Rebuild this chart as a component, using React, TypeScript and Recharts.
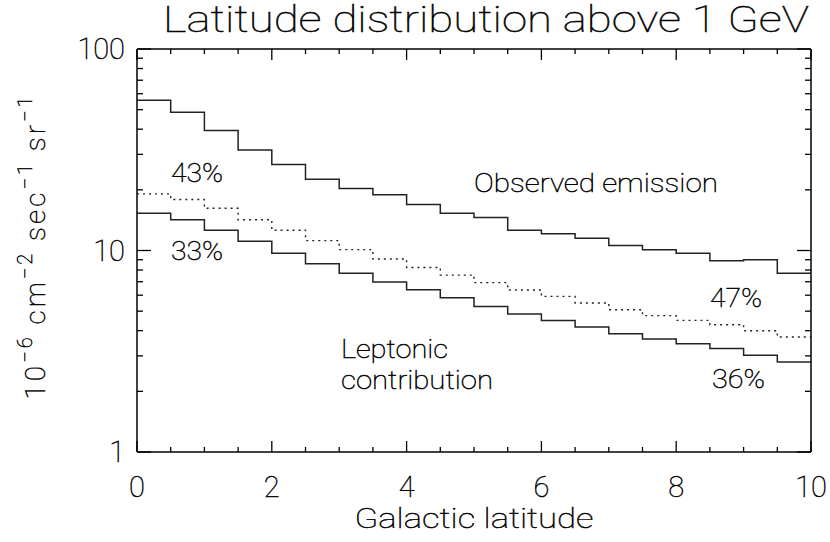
import { LineChart, Line, XAxis, YAxis } from 'recharts';

// bin left edges (deg), last point closes the final bin
const latitude = [0, 0.5, 1, 1.5, 2, 2.5, 3, 3.5, 4, 4.5, 5, 5.5, 6, 6.5, 7, 7.5, 8, 8.5, 9, 9.5, 10];
const observed = [55.6, 48.5, 39.4, 31.5, 26.7, 22.6, 20.3, 18.9, 16.9, 15.3, 14.6, 12.6, 12.1, 11.5, 10.6, 10.1, 9.7, 8.9, 9.0, 7.7, 7.7];
const model = [19.1, 17.9, 16.2, 14.2, 12.6, 11.2, 10.1, 9.07, 8.24, 7.55, 6.93, 6.37, 5.92, 5.49, 5.08, 4.75, 4.5, 4.28, 4.0, 3.72, 3.72];
const leptonic = [15.3, 14.2, 12.6, 11.1, 9.68, 8.6, 7.7, 6.98, 6.39, 5.83, 5.28, 4.84, 4.5, 4.17, 3.86, 3.64, 3.45, 3.26, 3.02, 2.8, 2.8];

const xTicks = [0, 0.5, 1, 1.5, 2, 2.5, 3, 3.5, 4, 4.5, 5, 5.5, 6, 6.5, 7, 7.5, 8, 8.5, 9, 9.5, 10];
const xLabels = [0, 2, 4, 6, 8, 10];
const yTicks = [1, 2, 3, 4, 5, 6, 7, 8, 9, 10, 20, 30, 40, 50, 60, 70, 80, 90, 100];
const yLabels = [1, 10, 100];

const data = latitude.map((lat, i) => ({
  lat,
  observed: observed[i],
  model: model[i],
  leptonic: leptonic[i],
}));

const FONT = "Roboto, 'DejaVu Sans', sans-serif";
const WEIGHT = 100;
const INK = '#000';
const LINE = '#222';

// thin font, darkened with a hairline stroke to look like the plotter lettering
const txt = { fontFamily: FONT, fontWeight: WEIGHT, fill: INK, stroke: INK, strokeWidth: 0.45 } as const;

// IDL-style inward ticks, long on labelled values
const BottomTick = ({ x, y, payload }: any) => {
  const major = xLabels.includes(payload.value);
  return (
    <g>
      <line x1={x} y1={y} x2={x} y2={y - (major ? 11 : 5)} stroke={INK} strokeWidth={1.3} />
      {major && (
        <text x={x} y={y + 45} textAnchor="middle" fontSize={29} {...txt}>
          {payload.value}
        </text>
      )}
    </g>
  );
};

const TopTick = ({ x, y, payload }: any) => {
  const major = xLabels.includes(payload.value);
  return <line x1={x} y1={y} x2={x} y2={y + (major ? 11 : 5)} stroke={INK} strokeWidth={1.3} />;
};

const LeftTick = ({ x, y, payload }: any) => {
  const major = yLabels.includes(payload.value);
  return (
    <g>
      <line x1={x} y1={y} x2={x + (major ? 14 : 6)} y2={y} stroke={INK} strokeWidth={1.3} />
      {major && (
        <text x={x - 12} y={y + 10} textAnchor="end" fontSize={29} {...txt}>
          {payload.value}
        </text>
      )}
    </g>
  );
};

const RightTick = ({ x, y, payload }: any) => {
  const major = yLabels.includes(payload.value);
  return <line x1={x} y1={y} x2={x - (major ? 14 : 6)} y2={y} stroke={INK} strokeWidth={1.3} />;
};

export default function App() {
  return (
    <div style={{ position: 'absolute', left: 0, top: 0, width: 830, height: 542, background: '#fff' }}>
      <LineChart width={830} height={542} data={data} margin={{ top: 48, right: 18, bottom: 0, left: 0 }}>
        <XAxis
          xAxisId="b"
          dataKey="lat"
          type="number"
          domain={[0, 10]}
          ticks={xTicks}
          interval={0}
          height={90}
          tickSize={0}
          tickMargin={0}
          tickLine={false}
          axisLine={{ stroke: INK, strokeWidth: 1.5 }}
          tick={<BottomTick />}
        />
        <XAxis
          xAxisId="t"
          orientation="top"
          dataKey="lat"
          type="number"
          domain={[0, 10]}
          ticks={xTicks}
          interval={0}
          height={1}
          tickSize={0}
          tickMargin={0}
          tickLine={false}
          axisLine={{ stroke: INK, strokeWidth: 1.5 }}
          tick={<TopTick />}
        />
        <YAxis
          yAxisId="l"
          scale="log"
          type="number"
          domain={[1, 100]}
          allowDataOverflow
          ticks={yTicks}
          interval={0}
          width={137}
          tickSize={0}
          tickMargin={0}
          tickLine={false}
          axisLine={{ stroke: INK, strokeWidth: 1.5 }}
          tick={<LeftTick />}
        />
        <YAxis
          yAxisId="r"
          orientation="right"
          scale="log"
          type="number"
          domain={[1, 100]}
          allowDataOverflow
          ticks={yTicks}
          interval={0}
          width={1}
          tickSize={0}
          tickMargin={0}
          tickLine={false}
          axisLine={{ stroke: INK, strokeWidth: 1.5 }}
          tick={<RightTick />}
        />
        <Line xAxisId="b" yAxisId="l" type="stepAfter" dataKey="observed" stroke={LINE} strokeWidth={1.5} dot={false} isAnimationActive={false} />
        {/* same domains as b/l; drawn on the mirrored axes so the frame's top and right sides render */}
        <Line xAxisId="t" yAxisId="r" type="stepAfter" dataKey="model" stroke={LINE} strokeWidth={1.4} strokeDasharray="2 4" dot={false} isAnimationActive={false} />
        <Line xAxisId="b" yAxisId="l" type="stepAfter" dataKey="leptonic" stroke={LINE} strokeWidth={1.5} dot={false} isAnimationActive={false} />
      </LineChart>

      <svg width={830} height={542} style={{ position: 'absolute', left: 0, top: 0, pointerEvents: 'none' }}>
        <text x={486} y={32} textAnchor="middle" fontSize={36} textLength={646} lengthAdjust="spacingAndGlyphs" {...txt}>
          Latitude distribution above 1 GeV
        </text>
        <text x={474} y={528} textAnchor="middle" fontSize={28} textLength={239} lengthAdjust="spacingAndGlyphs" {...txt}>
          Galactic latitude
        </text>
        <g transform="translate(45,248) rotate(-90)">
          <text x={0} y={0} textAnchor="middle" fontSize={28} textLength={303} lengthAdjust="spacing" {...txt}>
            10<tspan dy={-13} fontSize={20}>−6</tspan>
            <tspan dy={13}> cm</tspan>
            <tspan dy={-13} fontSize={20}>−2</tspan>
            <tspan dy={13}> sec</tspan>
            <tspan dy={-13} fontSize={20}>−1</tspan>
            <tspan dy={13}> sr</tspan>
            <tspan dy={-13} fontSize={20}>−1</tspan>
          </text>
        </g>
        <text x={171} y={182} fontSize={26} textLength={52} lengthAdjust="spacingAndGlyphs" {...txt}>43%</text>
        <text x={171} y={260} fontSize={26} textLength={52} lengthAdjust="spacingAndGlyphs" {...txt}>33%</text>
        <text x={474} y={192} fontSize={26} textLength={244} lengthAdjust="spacingAndGlyphs" {...txt}>Observed emission</text>
        <text x={710} y={307} fontSize={26} textLength={52} lengthAdjust="spacingAndGlyphs" {...txt}>47%</text>
        <text x={712} y={388} fontSize={26} textLength={53} lengthAdjust="spacingAndGlyphs" {...txt}>36%</text>
        <text x={341} y={358} fontSize={26} textLength={107} lengthAdjust="spacingAndGlyphs" {...txt}>Leptonic</text>
        <text x={341} y={389} fontSize={26} textLength={152} lengthAdjust="spacingAndGlyphs" {...txt}>contribution</text>
      </svg>
    </div>
  );
}
